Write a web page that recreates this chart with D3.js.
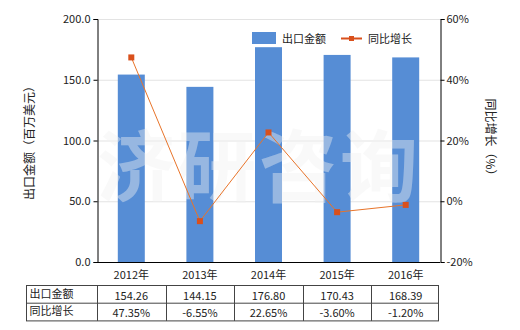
<!DOCTYPE html>
<html>
<head>
<meta charset="utf-8">
<script src="https://cdn.jsdelivr.net/npm/d3@7"></script>
<style>
  body { margin: 0; background: #fff; }
  svg { font-family: "Microsoft YaHei", "Noto Sans CJK SC", sans-serif; }
</style>
</head>
<body>
<div id="chart"></div>
<script>
// data
const years = ['2012年', '2013年', '2014年', '2015年', '2016年'];
const exportValues = [154.26, 144.15, 176.80, 170.43, 168.39];
const growthValues = [47.35, -6.55, 22.65, -3.60, -1.20];
const leftTicks = [0, 50, 100, 150, 200];
const rightTicks = [-20, 0, 20, 40, 60];

const size = {width: 520, height: 330};
const plot = {left: 97, right: 440, top: 19, bottom: 262};

const svg = d3.select('#chart').append('svg')
  .attr('width', size.width)
  .attr('height', size.height);

const xc = d3.scaleBand().domain(years).range([plot.left, plot.right]);
const yL = d3.scaleLinear().domain([0, 200]).range([plot.bottom, plot.top]);
const yR = d3.scaleLinear().domain([-20, 60]).range([plot.bottom, plot.top]);

// grid
svg.append('g').selectAll('line').data(leftTicks.filter(d => d > 0)).enter().append('line')
  .attr('x1', plot.left).attr('x2', plot.right)
  .attr('y1', d => yL(d) + 0.5).attr('y2', d => yL(d) + 0.5)
  .attr('stroke', '#e3e3e3');

// bars
svg.append('g').selectAll('rect').data(exportValues).enter().append('rect')
  .attr('x', (d, i) => xc(years[i]) + xc.bandwidth() / 2 - 13.5)
  .attr('width', 27)
  .attr('y', d => yL(d))
  .attr('height', d => plot.bottom - yL(d))
  .attr('fill', '#568dd5');

// watermark
svg.append('text')
  .attr('x', 259).attr('y', 196)
  .attr('text-anchor', 'middle')
  .attr('font-size', 78).attr('font-weight', 'bold')
  .attr('letter-spacing', 3)
  .attr('fill', '#f2f2f2').attr('opacity', 0.42)
  .text('济研咨询');

// growth line
const line = d3.line()
  .x((d, i) => xc(years[i]) + xc.bandwidth() / 2)
  .y(d => yR(d));
svg.append('path').datum(growthValues)
  .attr('d', line)
  .attr('fill', 'none')
  .attr('stroke', '#e8742a')
  .attr('stroke-width', 1);
svg.append('g').selectAll('rect').data(growthValues).enter().append('rect')
  .attr('x', (d, i) => xc(years[i]) + xc.bandwidth() / 2 - 3)
  .attr('y', d => yR(d) - 3)
  .attr('width', 6).attr('height', 6)
  .attr('fill', '#d9501c');

// axes
const axisL = svg.append('g')
  .attr('transform', `translate(${plot.left + 0.5},0)`)
  .call(d3.axisLeft(yL).tickValues(leftTicks).tickFormat(d3.format('.1f')).tickSize(4).tickPadding(3));
const axisR = svg.append('g')
  .attr('transform', `translate(${plot.right + 0.5},0)`)
  .call(d3.axisRight(yR).tickValues(rightTicks).tickFormat(d => d + '%').tickSize(4).tickPadding(2));
const axisB = svg.append('g')
  .attr('transform', `translate(0,${plot.bottom + 0.5})`)
  .call(d3.axisBottom(xc).tickSize(0).tickPadding(9));
[axisL, axisR, axisB].forEach(a => {
  a.select('.domain').attr('stroke', '#000');
  a.selectAll('.tick line').attr('stroke', '#000');
  a.selectAll('text').attr('font-size', 11).attr('fill', '#222')
    .attr('font-family', '"Microsoft YaHei", "Noto Sans CJK SC", sans-serif');
});
axisB.select('.domain').attr('d', `M${plot.left},0H${plot.right}`);

// axis titles
svg.append('text')
  .attr('transform', 'translate(34,140) rotate(-90)')
  .attr('text-anchor', 'middle').attr('font-size', 12).attr('fill', '#222')
  .text('出口金额（百万美元）');
svg.append('text')
  .attr('transform', 'translate(486,140) rotate(90)')
  .attr('text-anchor', 'middle').attr('font-size', 12).attr('fill', '#222')
  .text('同比增长（%）');

// legend
svg.append('rect').attr('x', 252).attr('y', 32).attr('width', 24).attr('height', 12).attr('fill', '#568dd5');
svg.append('text').attr('x', 282).attr('y', 43).attr('font-size', 11).attr('fill', '#222').text('出口金额');
svg.append('line').attr('x1', 341).attr('x2', 362).attr('y1', 38.5).attr('y2', 38.5).attr('stroke', '#d9501c').attr('stroke-width', 2);
svg.append('rect').attr('x', 349).attr('y', 36).attr('width', 5).attr('height', 5).attr('fill', '#d9501c');
svg.append('text').attr('x', 368).attr('y', 43).attr('font-size', 11).attr('fill', '#222').text('同比增长');

// data table
const table = {left: 26.5, top: 285.5, rowH: 17.7, right: 438.5};
const rows = [
  {label: '出口金额', vals: exportValues.map(d => d.toFixed(2))},
  {label: '同比增长', vals: growthValues.map(d => d.toFixed(2) + '%')}
];
const tg = svg.append('g');
tg.append('rect')
  .attr('x', table.left).attr('y', table.top)
  .attr('width', table.right - table.left).attr('height', table.rowH * 2)
  .attr('fill', 'none').attr('stroke', '#444');
tg.append('line')
  .attr('x1', table.left).attr('x2', table.right)
  .attr('y1', table.top + table.rowH).attr('y2', table.top + table.rowH)
  .attr('stroke', '#444');
tg.selectAll('line.col').data([plot.left].concat(years.slice(1).map(y => xc(y)))).enter().append('line')
  .attr('class', 'col')
  .attr('x1', d => Math.round(d) + 0.5).attr('x2', d => Math.round(d) + 0.5)
  .attr('y1', table.top).attr('y2', table.top + table.rowH * 2)
  .attr('stroke', '#444');
rows.forEach((r, ri) => {
  const ty = table.top + table.rowH * ri + 13;
  tg.append('text').attr('x', table.left + 3).attr('y', ty - 1)
    .attr('font-size', 11).attr('fill', '#222').text(r.label);
  tg.selectAll(null).data(r.vals).enter().append('text')
    .attr('x', (d, i) => xc(years[i]) + xc.bandwidth() / 2)
    .attr('y', ty + 1)
    .attr('text-anchor', 'middle')
    .attr('font-size', 11).attr('fill', '#222')
    .text(d => d);
});
</script>
</body>
</html>
